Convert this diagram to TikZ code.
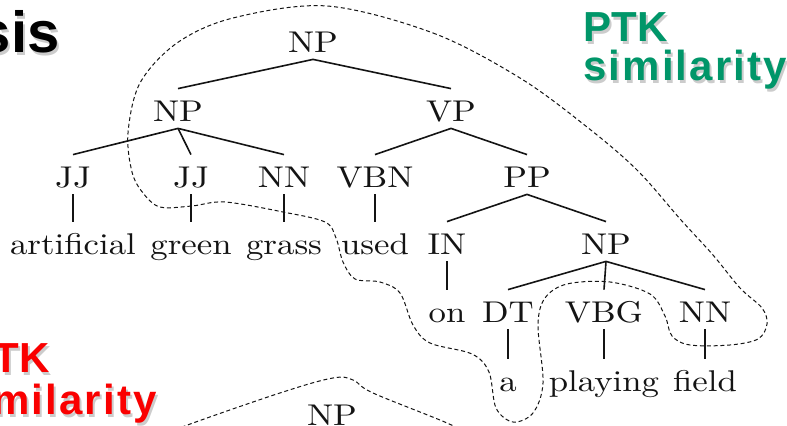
\documentclass[tikz,border=0pt]{standalone}
\usepackage{fontspec}
\setsansfont{Liberation Sans}
\newfontfamily\treefont{lmroman10-regular.otf}[FakeStretch=1.16]
\usetikzlibrary{calc}
\definecolor{ink}{RGB}{20,20,20}
\definecolor{ptkgreen}{RGB}{0,150,105}
\definecolor{tkred}{RGB}{250,0,0}
\tikzset{
  cat/.style={anchor=base,inner sep=0pt,text height=16.5pt,text depth=3pt,
    font=\treefont\fontsize{15}{18}\selectfont,text=ink},
  branch/.style={line width=0.8pt,draw=ink},
  fragment/.style={draw=ink,line width=0.5pt,dash pattern=on 2pt off 1.4pt},
  headline/.style={inner sep=0pt,font=\sffamily\bfseries\fontsize{#1}{#1}\selectfont},
  headline/.default=21,
  ghost/.style={text=black,opacity=0.2},
}
\newcommand\wide[1]{{\addfontfeature{LetterSpace=5}#1}}
\begin{document}
\begin{tikzpicture}[x=0.5pt,y=-0.5pt]
  \useasboundingbox (0,0) rectangle (787,426);
  \clip (0,0) rectangle (787,426);
  \fill[white] (0,0) rectangle (787,426);

  % slide titles
  \node[headline=29,anchor=base east,ghost] at (62,56) {sis};
  \node[headline=29,anchor=base east,text=black] (title) at (60,53) {sis};
  \node[headline,anchor=base west,ghost] at (585,45) {PTK};
  \node[headline,anchor=base west,text=ptkgreen] (ptk) at (583,42) {PTK};
  \node[headline,anchor=base west,ghost] at (585,84) {\wide{similarity}};
  \node[headline,anchor=base west,text=ptkgreen] (ptksim) at (583,81) {\wide{similarity}};
  \node[headline,anchor=base east,ghost] at (52,376) {TK};
  \node[headline,anchor=base east,text=tkred] (tk) at (50,373) {TK};
  \node[headline,anchor=base east,ghost] at (159,418) {\wide{milarity}};
  \node[headline,anchor=base east,text=tkred] (tksim) at (157,415) {\wide{milarity}};

  % parse tree
  \node[cat] (np0) at (313,53) {NP};
  \node[cat] (np1) at (178,122) {NP};
  \node[cat] (vp) at (451,122) {VP};
  \node[cat] (jj1) at (73,188) {JJ};
  \node[cat] (jj2) at (191,188) {JJ};
  \node[cat] (nn1) at (284,188) {NN};
  \node[cat] (vbn) at (375,188) {VBN};
  \node[cat] (pp) at (527,188) {PP};
  \node[cat] (artificial) at (73,255) {artificial};
  \node[cat] (green) at (191,255) {green};
  \node[cat] (grass) at (284,255) {grass};
  \node[cat] (used) at (375,255) {used};
  \node[cat] (in) at (447,255) {IN};
  \node[cat] (np2) at (606,255) {NP};
  \node[cat] (on) at (447,323) {on};
  \node[cat] (dt) at (508,323) {DT};
  \node[cat] (vbg) at (604,323) {VBG};
  \node[cat] (nn2) at (705,323) {NN};
  \node[cat] (a) at (508,392) {a};
  \node[cat] (playing) at (604,392) {playing};
  \node[cat] (field) at (705,392) {field};
  \node[cat] (npb) at (332,426) {NP};

  \foreach \p/\c in {np0/np1,np0/vp,np1/jj1,np1/jj2,np1/nn1,vp/vbn,vp/pp,
    jj1/artificial,jj2/green,nn1/grass,vbn/used,pp/in,pp/np2,in/on,
    np2/dt,np2/vbg,np2/nn2,dt/a,vbg/playing,nn2/field}
    \draw[branch] (\p.south) -- (\c.north);

  % shared fragments
  \draw[fragment] plot[smooth cycle,tension=0.55] coordinates {
    (327,6) (433,33) (520,78) (587,127) (637,170) (681,220) (713,255)
    (740,288) (762,308) (767,324) (758,339) (730,345) (690,345) (672,336)
    (665,316) (650,294) (610,282) (567,284) (545,298) (538,325) (543,383)
    (533,413) (513,422) (496,408) (489,372) (472,354) (430,343) (413,325)
    (400,293) (380,282) (355,279) (343,262) (336,238) (325,222) (283,212)
    (225,202) (192,206) (160,207) (143,193) (132,172) (128,133) (140,83)
    (177,43) (233,18)};
  \draw[fragment] plot[smooth,tension=0.6] coordinates {
    (150,440) (193,423) (283,392) (333,378) (353,380) (373,393) (447,423) (480,440)};
\end{tikzpicture}
\end{document}
